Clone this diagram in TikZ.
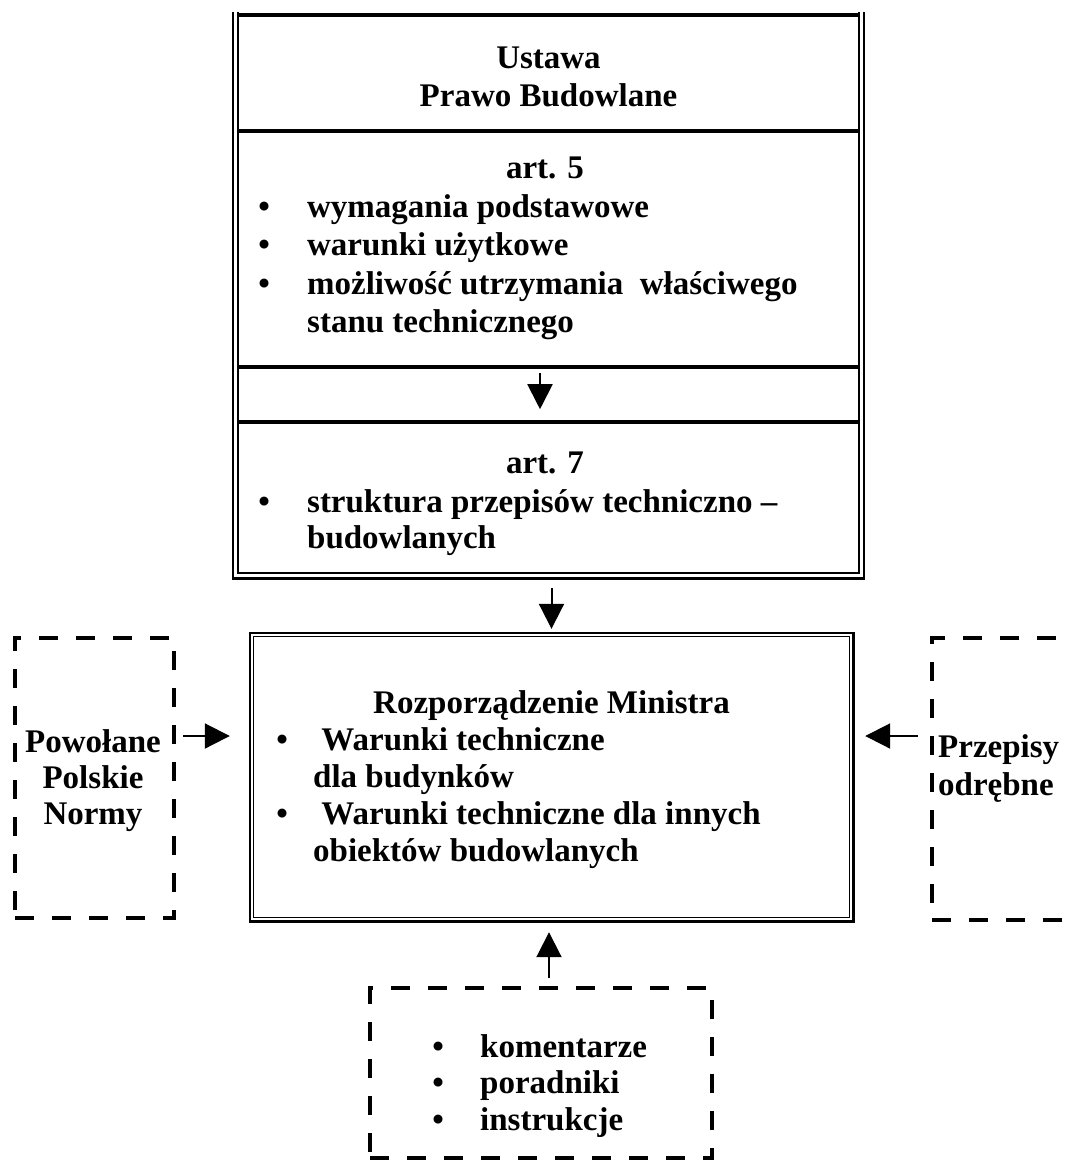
\documentclass[tikz,border=0pt]{standalone}
\usepackage{fontspec}
\setmainfont{Liberation Serif}
\usetikzlibrary{arrows.meta}
\newcommand\bu{\makebox[40pt]{\textbullet}}
\newcommand\nobu{\makebox[40pt]{}}
\begin{document}
\begin{tikzpicture}[x=1pt,y=-1pt,
  txt/.style={inner sep=0pt, font=\bfseries\fontsize{33}{#1}\selectfont},
  txt/.default=38,
  arr/.style={line width=2pt, -{Triangle[width=25pt,length=25pt]}},
  dashbox/.style={draw, line width=4.2pt, dash pattern=on 19pt off 18pt, inner sep=0pt},
  frame/.style={inner sep=0pt, draw=none},
  outerline/.style={line width=2.6pt},
  innerline/.style={line width=1.3pt},
  divider/.style={line width=3.5pt}
]
\useasboundingbox[fill=white] (0,0) rectangle (1070,1163);

% ---- boxes (geometry) ----
\node[frame, minimum width=631pt, minimum height=566pt] (law) at (548.5,295) {};
\node[frame, minimum width=603pt, minimum height=288pt] (main) at (551.5,777) {};
\node[dashbox, minimum width=159pt, minimum height=280pt] (norms) at (94.5,778) {};
\node[dashbox, minimum width=180pt, minimum height=282pt] (other) at (1022,779) {};
\node[dashbox, minimum width=342pt, minimum height=170pt] (guides) at (541,1073) {};
\node[frame, minimum width=10pt, minimum height=55pt] (gap) at (540,394.5) {};

% top (law) box: open double frame with dividers
\draw[line width=2pt] (law.north west) -- (law.south west);
\draw[line width=2pt] (law.north east) -- (law.south east);
\draw[outerline] ([shift={(-1,0)}]law.south west) -- ([shift={(1,0)}]law.south east);
\draw[line width=2pt] ([shift={(5,0)}]law.north west) -- ([shift={(5,-5)}]law.south west)
      -- ([shift={(-5,-5)}]law.south east) -- ([shift={(-5,0)}]law.north east);
\draw[divider] (238,15) -- (859,15);
\draw[divider] (238,131) -- (859,131);
\draw[divider] (238,367) -- (859,367);
\draw[divider] (238,422) -- (859,422);

% main box: double frame
\draw[outerline] (main.north west) rectangle (main.south east);
\draw[innerline] ([shift={(4,4)}]main.north west) rectangle ([shift={(-4,-4)}]main.south east);

% ---- texts ----
\node[txt, anchor=base] (title) at (548.5,68)
  {\begin{tabular}[t]{@{}c@{}}Ustawa\\Prawo Budowlane\end{tabular}};
\node[txt, anchor=base] (art5) at (545,178) {art. 5};
\node[txt=38.5, anchor=base west] (art5list) at (244,217)
  {\begin{tabular}[t]{@{}l@{\hspace{23pt}}l@{}}
   \bu & wymagania podstawowe\\
   \bu & warunki użytkowe\\
   \bu & możliwość utrzymania\ \ właściwego\\
   \nobu & stanu technicznego
   \end{tabular}};
\node[txt, anchor=base] (art7) at (545,473) {art. 7};
\node[txt=36.5, anchor=base west] (art7list) at (244,512)
  {\begin{tabular}[t]{@{}l@{\hspace{23pt}}l@{}}
   \bu & struktura przepisów techniczno –\\
   \nobu & budowlanych
   \end{tabular}};

\node[txt, anchor=base] (rozp) at (551.5,713) {Rozporządzenie Ministra};
\node[txt=37.3, anchor=base west] (rozplist) at (262,750)
  {\begin{tabular}[t]{@{}l@{\hspace{11pt}}l@{}}
   \bu & \ Warunki techniczne\\
   \nobu & dla budynków\\
   \bu & \ Warunki techniczne dla innych\\
   \nobu & obiektów budowlanych
   \end{tabular}};

\node[txt=36, anchor=base] (normstxt) at (93,752)
  {\begin{tabular}[t]{@{}c@{}}Powołane\\Polskie\\Normy\end{tabular}};
\node[txt=38, anchor=base west] (othertxt) at (938,757)
  {\begin{tabular}[t]{@{}l@{}}Przepisy\\odrębne\end{tabular}};
\node[txt=36.5, anchor=base west] (guidestxt) at (418,1057)
  {\begin{tabular}[t]{@{}l@{\hspace{22pt}}l@{}}
   \bu & komentarze\\
   \bu & poradniki\\
   \bu & instrukcje
   \end{tabular}};

% ---- connectors ----
\draw[arr, shorten <=6pt, shorten >=13pt] (gap.north) -- (gap.south);
\draw[arr, shorten <=10pt, shorten >=4pt] (main.north |- law.south) -- (main.north);
\draw[arr, shorten <=7pt, shorten >=20pt] ([shift={(0,-42)}]norms.east) -- ([shift={(0,-42)}]norms.east -| main.west);
\draw[arr, shorten <=12pt, shorten >=12pt] ([shift={(0,-43)}]other.west) -- ([shift={(0,-43)}]other.west -| main.east);
\draw[arr, shorten <=8pt, shorten >=11pt] ([shift={(8,0)}]guides.north) -- ([shift={(8,0)}]guides.north |- main.south);
\end{tikzpicture}
\end{document}
